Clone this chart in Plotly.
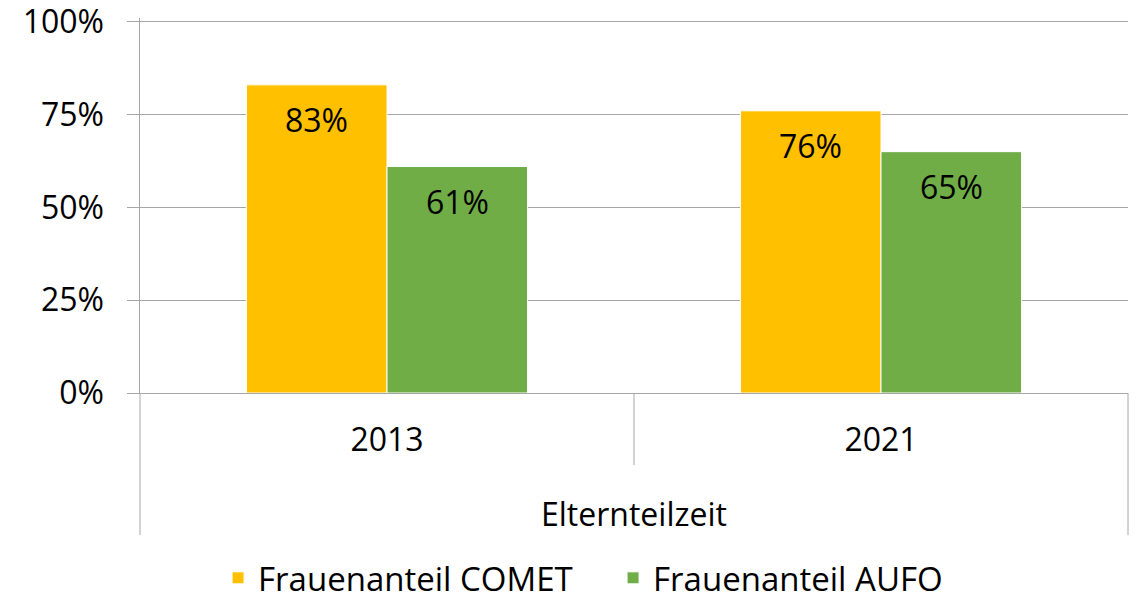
import plotly.graph_objects as go

years = ["2013", "2021"]
group_label = "Elternteilzeit"
series_names = ["Frauenanteil COMET", "Frauenanteil AUFO"]
comet = [0.83, 0.76]
aufo = [0.61, 0.65]
colors = ["#FFC000", "#70AD47"]
y_tick_values = [0, 0.25, 0.5, 0.75, 1.0]
y_tick_labels = ["0%", "25%", "50%", "75%", "100%"]

FONT = "Open Sans"
GRID = "#A6A6A6"
FS = 32

fig = go.Figure()
for name, vals, col in zip(series_names, [comet, aufo], colors):
    fig.add_trace(go.Bar(
        x=years, y=vals, name=name,
        marker=dict(color=col, line=dict(color="white", width=1)),
    ))

# data labels (inside end) placed at each category centre (paper coords) +/- half group
n = len(years)
for i, vals in enumerate([comet, aufo]):
    shift = -70.5 if i == 0 else 70.5
    for j, v in enumerate(vals):
        fig.add_annotation(x=(j + 0.5) / n, y=v, xref="paper", yref="y",
                           text=f"{round(v*100)}%", showarrow=False,
                           xshift=shift, yshift=-35, xanchor="center", yanchor="middle",
                           font=dict(size=FS, color="black", family=FONT))

# category dividers (multi-level axis look)
line = dict(color=GRID, width=1)
fig.add_shape(type="line", xref="paper", yref="paper", x0=0, x1=0, y0=0, y1=-0.379, line=line)
fig.add_shape(type="line", xref="paper", yref="paper", x0=0.5, x1=0.5, y0=0, y1=-0.192, line=line)
fig.add_shape(type="line", xref="paper", yref="paper", x0=1, x1=1, y0=0, y1=-0.379, line=line)
fig.add_annotation(x=0.5, y=-0.32, xref="paper", yref="paper", text=group_label,
                   showarrow=False, xanchor="center", yanchor="middle",
                   font=dict(size=FS, color="black", family=FONT))

fig.update_layout(
    width=1129, height=660,
    margin=dict(l=132, r=9, t=10, b=275),
    paper_bgcolor="white", plot_bgcolor="white",
    font=dict(family=FONT, size=FS, color="black"),
    barmode="group", bargap=0.431, bargroupgap=0,
    showlegend=True,
    legend=dict(orientation="h", x=0.079, xanchor="left", y=-0.493, yanchor="middle",
                entrywidth=350,
                font=dict(size=33, color="black", family=FONT)),
)
fig.update_xaxes(type="category", showgrid=False, showline=True, linecolor=GRID, linewidth=1,
                 ticks="outside", ticklen=19, tickcolor="rgba(0,0,0,0)",
                 showticklabels=True, tickfont=dict(size=FS, color="black"),
                 zeroline=False, automargin=False)
fig.update_yaxes(range=[0, 1.01], tickmode="array", tickvals=y_tick_values,
                 ticktext=[t + "\u00a0\u00a0" for t in y_tick_labels],
                 ticklabeloverflow="allow",
                 showgrid=True, gridcolor=GRID,
                 gridwidth=1, showline=True, linecolor=GRID, linewidth=1, ticks="outside",
                 ticklen=12, tickcolor=GRID,
                 tickfont=dict(size=FS, color="black"), zeroline=False, automargin=False)

fig.write_html("out.html")
